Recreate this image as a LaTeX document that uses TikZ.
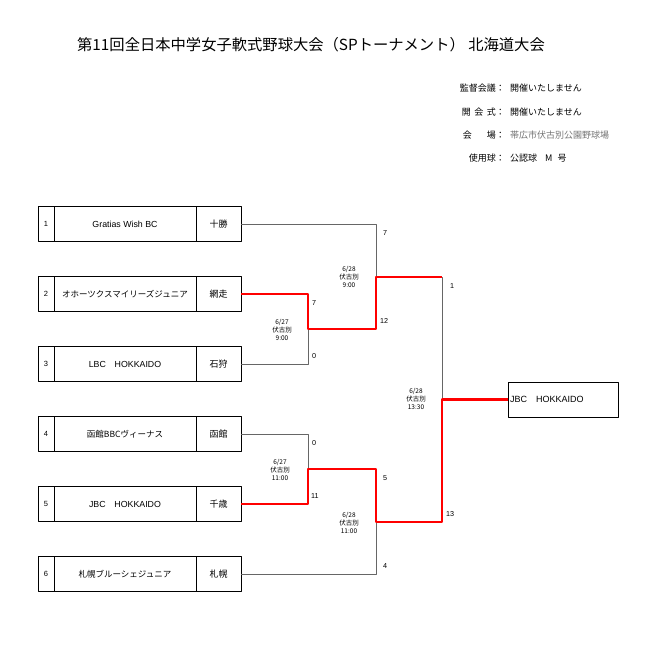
\documentclass[tikz,border=0pt]{standalone}
\usepackage{fontspec}
\setmainfont{Liberation Sans}
\newfontfamily\jp{Noto Sans CJK JP}
\usetikzlibrary{positioning}
\begin{document}
\begin{tikzpicture}[x=1pt, y=-1pt, line join=round,
	numbox/.style={draw, thin, minimum width=16pt, minimum height=35pt, inner sep=0pt, outer sep=0pt, anchor=west, font=\fontsize{7.5}{9}\selectfont},
	teambox/.style={draw, thin, minimum width=142pt, minimum height=35pt, inner sep=0pt, outer sep=0pt, font=\fontsize{8.8}{11}\selectfont},
	citybox/.style={draw, thin, minimum width=45pt, minimum height=35pt, inner sep=0pt, outer sep=0pt, font=\fontsize{9}{11}\selectfont\jp},
	champbox/.style={draw, thin, anchor=west, minimum height=35pt, text width=106pt, inner xsep=2pt, outer sep=0pt, align=left, font=\fontsize{9}{11}\selectfont},
	lose/.style={draw=black!60, line width=0.7pt},
	win/.style={draw=red, line width=2.4pt},
	score/.style={anchor=west, inner sep=0pt, font=\fontsize{7.2}{8}\selectfont},
	match/.style={align=center, inner sep=0pt, font=\fontsize{6.5}{8}\selectfont\jp},
	hdlabel/.style={anchor=east, inner sep=0pt, font=\fontsize{9}{11}\selectfont\jp},
	hdvalue/.style={anchor=west, inner sep=0pt, font=\fontsize{9}{11}\selectfont\jp}]
	\useasboundingbox (0,0) rectangle (647,645);
	% タイトル
	\node[font=\fontsize{15.3}{18}\selectfont\jp] (title) at (311,45) {第11回全日本中学女子軟式野球大会（SPトーナメント） 北海道大会};
	\node[hdlabel] (l1) at (505,88) {監督会議：};
	\node[hdvalue] (v1) at (510,88) {開催いたしません};
	\node[hdlabel] (l2) at (505,112) {開\hspace{3.5pt}会\hspace{3.5pt}式：};
	\node[hdvalue] (v2) at (510,112) {開催いたしません};
	\node[hdlabel] (l3) at (505,135) {会\hspace{15pt}場：};
	\node[hdvalue, text=black!55] (v3) at (510,135) {帯広市伏古別公園野球場};
	\node[hdlabel] (l4) at (505,158) {使用球：};
	\node[hdvalue] (v4) at (510,158) {公認球\hspace{8pt}M\hspace{5pt}号};
	% チーム
	\foreach \i/\team/\city in {1/{Gratias Wish BC}/十勝, 2/{\jp\fontsize{8.5}{11}\selectfont オホーツクスマイリーズジュニア}/網走, 3/{LBC\hspace{1em}HOKKAIDO}/石狩, 4/{\jp\fontsize{8.5}{11}\selectfont 函館BBCヴィーナス}/函館, 5/{JBC\hspace{1em}HOKKAIDO}/千歳, 6/{\jp\fontsize{8.5}{11}\selectfont 札幌ブルーシェジュニア}/札幌}{
		\node[numbox] (n\i) at (38,{224+70*(\i-1)}) {\i};
		\node[teambox, right=0pt of n\i] (t\i) {\team};
		\node[citybox, right=0pt of t\i] (c\i) {\city};
	}
	\coordinate (w1) at (308,329);
	\coordinate (w2) at (308,469);
	\coordinate (w3) at (376,277);
	\coordinate (w4) at (376,522);
	\coordinate (w5) at (442,399.5);
	\node[champbox] (champ) at (508,399.5) {JBC\hspace{1em}HOKKAIDO};
	% 線
	\draw[lose] (c1.east) -| (w3);
	\draw[lose] (c3.east) -| (w1);
	\draw[lose] (c4.east) -| (w2);
	\draw[lose] (c6.east) -| (w4);
	\draw[lose] (w3) -| (w5);
	\draw[win] (c2.east) -| (w1) -| (w3) -- (w3 -| w5);
	\draw[win] (c5.east) -| (w2) -| (w4) -| (w5) -- (champ.west);
	% 得点
	\node[score] at (312,303) {7};
	\node[score] at (312,356) {0};
	\node[score] at (312,443) {0};
	\node[score] at (311,496) {11};
	\node[score] at (383,233) {7};
	\node[score] at (380,321) {12};
	\node[score] at (383,478) {5};
	\node[score] at (383,566) {4};
	\node[score] at (450,286) {1};
	\node[score] at (446,514) {13};
	% 日程
	\node[match] at (282,330) {6/27\\伏古別\\9:00};
	\node[match] at (280,470) {6/27\\伏古別\\11:00};
	\node[match] at (349,277) {6/28\\伏古別\\9:00};
	\node[match] at (349,523) {6/28\\伏古別\\11:00};
	\node[match] at (416,399) {6/28\\伏古別\\13:30};
\end{tikzpicture}
\end{document}
